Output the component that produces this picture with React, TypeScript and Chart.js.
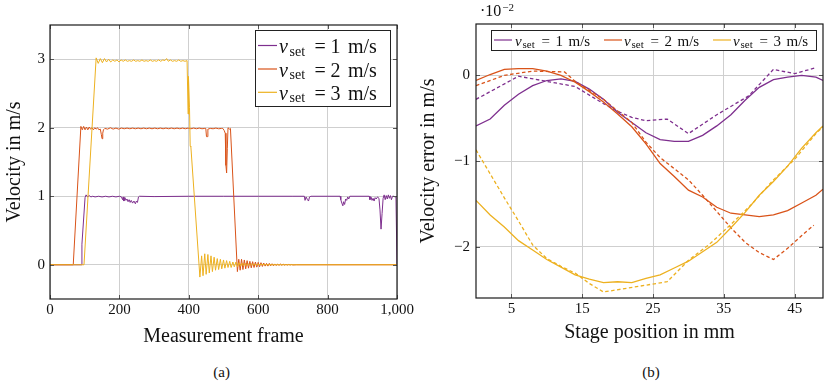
import React, { useEffect, useRef } from 'react';
import { Chart, registerables } from 'chart.js';

Chart.register(...registerables);

type Pt = [number, number];

const FONT = '"Liberation Serif", "Times New Roman", serif';
const INK = '#111111';
const GRID = '#cfcfcf';
const PURPLE = '#7E2F8E';
const ORANGE = '#D95319';
const YELLOW = '#EDB120';

// ---------------- (a) Velocity vs measurement frame ----------------
const frameTicks = [0, 200, 400, 600, 800, 1000];
const velocityTicks = [0, 1, 2, 3];
const legendValues = ['1', '2', '3'];

const velocity1: Pt[] = [
  [0, 0], [90, 0], [92, 0.3], [101, 0.98], [104, 1.02], [108, 0.99], [113, 1.01], [118, 0.99], [123, 1.0], [130, 0.99],
  [140, 1.0], [150, 0.99], [160, 1.0], [170, 0.99], [180, 1.0], [190, 0.99], [200, 1.0], [206, 0.99], [209, 0.95], [211, 0.99],
  [213, 0.93], [216, 0.98], [219, 0.94], [222, 0.96], [225, 0.92], [228, 0.95], [231, 0.91], [234, 0.94], [238, 0.9], [242, 0.93],
  [246, 0.89], [249, 0.93], [252, 0.91], [255, 0.99], [258, 1.0], [300, 0.995], [400, 1.0], [500, 1.0], [600, 1.0], [700, 1.0],
  [733, 1.0], [735, 0.94], [738, 0.99], [742, 0.95], [745, 0.93], [748, 0.99], [752, 1.0], [836, 1.0], [838, 0.95], [841, 0.9],
  [844, 0.86], [846, 0.92], [849, 0.88], [852, 0.96], [855, 0.94], [858, 0.99], [861, 0.96], [864, 1.0], [920, 1.0], [922, 0.95],
  [925, 0.99], [928, 0.94], [931, 0.97], [934, 0.93], [937, 0.98], [940, 0.96], [944, 0.99], [948, 0.97], [951, 0.8], [954, 0.52],
  [957, 0.75], [960, 0.97], [963, 1.02], [966, 0.95], [969, 1.01], [972, 0.96], [975, 1.02], [978, 0.97], [981, 1.01], [984, 0.95],
  [987, 1.0], [991, 1.0], [994, 0.99], [997, 0.99], [1000, 0],
];

const velocity2: Pt[] = [
  [0, 0], [67, 0], [89, 2.02], [93, 1.97], [97, 2.02], [101, 1.97], [105, 2.01], [109, 1.97], [113, 2.01], [117, 1.98],
  [121, 2.0], [125, 1.97], [129, 2.0], [133, 1.98], [137, 2.0], [141, 1.97], [145, 1.98], [148, 1.9], [150, 1.84], [152, 1.92],
  [154, 1.97], [158, 1.99], [166, 1.98], [174, 2.0], [182, 1.98], [190, 1.995], [198, 1.98], [206, 1.995], [214, 1.985], [222, 1.995],
  [230, 1.985], [238, 1.995], [246, 1.985], [254, 1.995], [262, 1.985], [270, 1.995], [278, 1.985], [286, 1.995], [294, 1.985], [302, 1.995],
  [310, 1.985], [318, 1.995], [326, 1.985], [334, 1.995], [342, 1.985], [350, 1.995], [358, 1.985], [366, 1.995], [374, 1.985], [382, 1.995],
  [390, 1.985], [398, 1.995], [406, 1.985], [414, 1.995], [422, 1.985], [430, 1.995], [438, 1.985], [446, 1.99], [449, 1.99], [451, 1.87],
  [453, 1.87], [455, 1.98], [462, 1.99], [470, 1.985], [478, 1.995], [486, 1.985], [494, 1.99], [498, 1.99], [502, 1.96], [505, 1.92],
  [507, 1.45], [509, 1.34], [511, 1.7], [513, 2.0], [517, 1.98], [520, 1.99], [540, -0.1], [544, 0.08], [548, -0.08], [552, 0.08],
  [556, -0.07], [560, 0.07], [564, -0.06], [568, 0.06], [572, -0.05], [576, 0.05], [580, -0.045], [584, 0.045], [588, -0.04], [592, 0.04],
  [596, -0.035], [600, 0.035], [604, -0.03], [608, 0.03], [612, -0.025], [616, 0.025], [620, -0.02], [624, 0.02], [628, -0.02], [632, 0.02],
  [636, -0.015], [640, 0.015], [644, -0.015], [648, 0.012], [652, -0.012], [656, 0.01], [660, -0.01], [664, 0.01], [668, -0.008], [672, 0.008],
  [676, -0.006], [680, 0.006], [684, -0.005], [688, 0.005], [692, -0.004], [696, 0.004], [700, -0.003], [710, 0], [1000, 0],
];

const velocity3: Pt[] = [
  [0, 0], [98, 0], [133, 3.02], [139, 2.94], [145, 3.01], [151, 2.95], [157, 3.01], [163, 2.96], [169, 3.0], [175, 2.96],
  [181, 2.99], [187, 2.97], [193, 2.99], [199, 2.96], [205, 2.99], [211, 2.97], [217, 2.99], [223, 2.97], [229, 2.98], [235, 2.97],
  [241, 2.99], [247, 2.97], [253, 2.98], [259, 2.97], [265, 2.99], [271, 2.97], [277, 2.98], [283, 2.97], [289, 2.99], [295, 2.97],
  [301, 2.98], [307, 2.97], [313, 2.99], [319, 2.97], [325, 2.99], [331, 2.98], [336, 3.01], [341, 2.97], [347, 2.99], [353, 2.97],
  [359, 2.98], [365, 2.97], [371, 2.99], [377, 2.97], [383, 2.98], [389, 2.97], [395, 2.98], [397, 2.98], [398, 2.2], [399, 2.75],
  [402, 2.3], [404, 1.73], [406, 1.72], [432, -0.18], [437, 0.13], [441, -0.16], [446, 0.16], [450, -0.14], [455, 0.15], [459, -0.12],
  [464, 0.13], [468, -0.1], [473, 0.11], [477, -0.08], [482, 0.09], [486, -0.07], [491, 0.08], [495, -0.06], [500, 0.07], [504, -0.05],
  [509, 0.06], [513, -0.04], [518, 0.05], [522, -0.04], [527, 0.04], [531, -0.03], [536, 0.04], [540, -0.03], [545, 0.03], [549, -0.02],
  [554, 0.025], [558, -0.015], [563, 0.02], [567, -0.01], [572, 0.015], [576, -0.01], [581, 0.012], [585, -0.005], [590, 0.01], [594, -0.005],
  [600, 0.008], [605, 0], [612, 0.005], [620, 0], [640, 0], [1000, 0],
];

// ---------------- (b) Velocity error vs stage position (x 10^-2 m/s) ----------------
const positionTicks = [5, 15, 25, 35, 45];
const errorTicks = [-2, -1, 0];

const stagePositions = [0, 2, 4, 6, 8, 10, 12, 14, 16, 18, 20, 22, 24, 26, 28, 30, 32, 34, 36, 38, 40, 42, 44, 46, 48, 49];
const error1Solid = [-0.59, -0.51, -0.35, -0.22, -0.12, -0.06, -0.04, -0.07, -0.16, -0.28, -0.43, -0.55, -0.67, -0.75, -0.77, -0.77, -0.70, -0.59, -0.46, -0.29, -0.14, -0.05, -0.02, 0.0, -0.02, -0.06];
const error2Solid = [-0.06, 0.01, 0.07, 0.08, 0.08, 0.05, 0.0, -0.08, -0.19, -0.31, -0.45, -0.60, -0.80, -1.03, -1.18, -1.34, -1.42, -1.54, -1.61, -1.63, -1.65, -1.63, -1.58, -1.49, -1.40, -1.33];
const error3Solid = [-1.46, -1.63, -1.77, -1.93, -2.04, -2.15, -2.24, -2.33, -2.38, -2.42, -2.41, -2.42, -2.37, -2.33, -2.25, -2.17, -2.06, -1.95, -1.78, -1.60, -1.40, -1.24, -1.06, -0.85, -0.67, -0.59];

const error1DashPos = [0, 6, 14, 18, 20, 22, 24, 27, 30, 34, 38.5, 42, 45, 48];
const error1Dash = [-0.28, -0.01, -0.13, -0.33, -0.42, -0.49, -0.53, -0.51, -0.68, -0.46, -0.24, 0.07, 0.02, 0.09];
const error2DashPos = [0, 4, 8, 12.5, 14, 18, 22, 24, 26, 28, 30, 32, 34, 36, 38, 40, 42, 44, 46, 47.7];
const error2Dash = [-0.12, 0.0, 0.05, 0.04, -0.07, -0.28, -0.55, -0.78, -0.96, -1.09, -1.22, -1.40, -1.59, -1.78, -1.95, -2.07, -2.15, -2.02, -1.87, -1.75];
const error3DashPos = [0, 2, 4, 6, 8, 10, 12, 14, 16, 18, 21, 24, 27, 30, 33, 36, 39, 42, 45, 48, 49];
const error3Dash = [-0.87, -1.15, -1.43, -1.70, -1.98, -2.14, -2.23, -2.31, -2.43, -2.53, -2.49, -2.45, -2.41, -2.16, -1.97, -1.74, -1.50, -1.22, -0.98, -0.68, -0.60];

// ---------------- helpers ----------------
const fromPairs = (a: Pt[]) => a.map(([x, y]) => ({ x, y }));
const zip = (xs: number[], ys: number[]) => xs.map((x, i) => ({ x, y: ys[i] }));
const minus = (v: number) => (v < 0 ? '\u2212' + Math.abs(v) : String(v));

type LegendEntry = { lineX: number; lineW: number; y: number; textX: number; color: string; value: string };
type OverlaySpec = {
  box: { x: number; y: number; w: number; h: number };
  fs: number;
  offs: number[];
  entries: LegendEntry[];
  multiplier?: { x: number; y: number };
};

function drawVset(ctx: CanvasRenderingContext2D, x: number, y: number, fs: number, offs: number[], value: string) {
  const base = y + 0.38 * fs;
  ctx.fillStyle = INK;
  ctx.textAlign = 'left';
  ctx.textBaseline = 'alphabetic';
  ctx.font = `italic ${fs}px ${FONT}`;
  ctx.fillText('v', x + offs[0], base);
  ctx.font = `${Math.round(fs * 0.7)}px ${FONT}`;
  ctx.fillText('set', x + offs[1], base + 0.12 * fs);
  ctx.font = `${fs}px ${FONT}`;
  ctx.fillText('=', x + offs[2], base);
  ctx.fillText(value, x + offs[3], base);
  ctx.fillText('m/s', x + offs[4], base);
}

function makeOverlay(spec: OverlaySpec) {
  return {
    id: 'overlay',
    afterDraw(chart: any) {
      const { ctx, chartArea: a } = chart;
      const xs = chart.scales.x;
      const ys = chart.scales.y;
      ctx.save();
      ctx.setLineDash([]);
      ctx.strokeStyle = '#555';
      ctx.lineWidth = 1;
      ctx.beginPath();
      for (const t of xs.ticks) {
        const p = Math.round(xs.getPixelForValue(t.value)) + 0.5;
        ctx.moveTo(p, a.bottom);
        ctx.lineTo(p, a.bottom - 4);
        ctx.moveTo(p, a.top);
        ctx.lineTo(p, a.top + 4);
      }
      for (const t of ys.ticks) {
        const p = Math.round(ys.getPixelForValue(t.value)) + 0.5;
        ctx.moveTo(a.left, p);
        ctx.lineTo(a.left + 4, p);
        ctx.moveTo(a.right, p);
        ctx.lineTo(a.right - 4, p);
      }
      ctx.stroke();
      ctx.strokeStyle = '#1a1a1a';
      ctx.lineWidth = 1.2;
      ctx.strokeRect(a.left, a.top, a.right - a.left, a.bottom - a.top);

      const b = spec.box;
      ctx.fillStyle = '#ffffff';
      ctx.fillRect(b.x, b.y, b.w, b.h);
      ctx.strokeStyle = '#222';
      ctx.lineWidth = 1;
      ctx.strokeRect(b.x + 0.5, b.y + 0.5, b.w, b.h);
      for (const e of spec.entries) {
        ctx.strokeStyle = e.color;
        ctx.lineWidth = 1.2;
        ctx.beginPath();
        ctx.moveTo(e.lineX, e.y);
        ctx.lineTo(e.lineX + e.lineW, e.y);
        ctx.stroke();
        drawVset(ctx, e.textX, e.y, spec.fs, spec.offs, e.value);
      }
      if (spec.multiplier) {
        const m = spec.multiplier;
        ctx.fillStyle = INK;
        ctx.textAlign = 'left';
        ctx.textBaseline = 'alphabetic';
        ctx.font = `16px ${FONT}`;
        ctx.fillText('\u00B710', m.x, m.y);
        const w = ctx.measureText('\u00B710').width;
        ctx.font = `11px ${FONT}`;
        ctx.fillText('\u22122', m.x + w + 1, m.y - 5);
      }
      ctx.restore();
    },
  };
}

const tickFont = { family: FONT, size: 15 };
const titleFont = { family: FONT, size: 20, lineHeight: 1 };

function buildLeft(): any {
  const colors = [PURPLE, ORANGE, YELLOW];
  return {
    type: 'line',
    data: {
      datasets: [velocity1, velocity2, velocity3].map((s, i) => ({
        data: fromPairs(s),
        borderColor: colors[i],
        borderWidth: 1,
        pointRadius: 0,
        tension: 0,
        fill: false,
        order: 3 - i,
      })),
    },
    options: {
      responsive: false,
      animation: false,
      events: [],
      layout: { padding: { top: 25, right: 23, left: 0, bottom: 0 } },
      plugins: { legend: { display: false }, tooltip: { enabled: false } },
      scales: {
        x: {
          type: 'linear',
          min: 0,
          max: 1000,
          afterBuildTicks: (s: any) => { s.ticks = frameTicks.map((v) => ({ value: v })); },
          afterFit: (s: any) => { s.height = 56; },
          grid: { color: GRID, lineWidth: 1, drawTicks: false },
          border: { display: false },
          ticks: { padding: 2, font: tickFont, color: INK, autoSkip: false, maxRotation: 0, callback: (v: any) => Number(v).toLocaleString('en-US') },
          title: { display: true, text: 'Measurement frame', font: titleFont, color: INK, padding: { top: 0, bottom: 8.5 } },
        },
        y: {
          type: 'linear',
          min: -0.5,
          max: 3.5,
          afterBuildTicks: (s: any) => { s.ticks = velocityTicks.map((v) => ({ value: v })); },
          afterFit: (s: any) => { s.width = 50; },
          grid: { color: GRID, lineWidth: 1, drawTicks: false },
          border: { display: false },
          ticks: { padding: 5, font: tickFont, color: INK, autoSkip: false, callback: (v: any) => String(v) },
          title: { display: true, text: 'Velocity in m/s', font: titleFont, color: INK, padding: { top: 5, bottom: 0 } },
        },
      },
    },
    plugins: [
      makeOverlay({
        box: { x: 255, y: 30, w: 135, h: 76 },
        fs: 20,
        offs: [0, 10.5, 35.5, 51.5, 69],
        entries: [45.5, 69, 92.3].map((y, i) => ({ lineX: 258, lineW: 19, y, textX: 279, color: colors[i], value: legendValues[i] })),
      }),
    ],
  };
}

function buildRight(): any {
  const colors = [PURPLE, ORANGE, YELLOW];
  const solids = [error1Solid, error2Solid, error3Solid];
  const dashPos = [error1DashPos, error2DashPos, error3DashPos];
  const dashes = [error1Dash, error2Dash, error3Dash];
  const datasets: any[] = [];
  for (let i = 0; i < 3; i++) {
    datasets.push({ data: zip(stagePositions, solids[i]), borderColor: colors[i], borderWidth: 1.3, pointRadius: 0, tension: 0, fill: false, order: 6 - 2 * i });
    datasets.push({ data: zip(dashPos[i], dashes[i]), borderColor: colors[i], borderWidth: 1.3, borderDash: [3.5, 2.5], pointRadius: 0, tension: 0, fill: false, order: 5 - 2 * i });
  }
  const textXs = [95, 204, 313];
  const lineXs = [74, 184, 293];
  return {
    type: 'line',
    data: { datasets },
    options: {
      responsive: false,
      animation: false,
      events: [],
      layout: { padding: { top: 24, right: 1, left: 0, bottom: 0 } },
      plugins: { legend: { display: false }, tooltip: { enabled: false } },
      scales: {
        x: {
          type: 'linear',
          min: 0,
          max: 49,
          afterBuildTicks: (s: any) => { s.ticks = positionTicks.map((v) => ({ value: v })); },
          afterFit: (s: any) => { s.height = 57; },
          grid: { color: GRID, lineWidth: 1, drawTicks: false },
          border: { display: false },
          ticks: { padding: 2, font: tickFont, color: INK, autoSkip: false, maxRotation: 0, callback: (v: any) => String(v) },
          title: { display: true, text: 'Stage position in mm', font: titleFont, color: INK, padding: { top: 0, bottom: 12 } },
        },
        y: {
          type: 'linear',
          min: -2.6,
          max: 0.6,
          afterBuildTicks: (s: any) => { s.ticks = errorTicks.map((v) => ({ value: v })); },
          afterFit: (s: any) => { s.width = 56; },
          grid: { color: GRID, lineWidth: 1, drawTicks: false },
          border: { display: false },
          ticks: { padding: 6, font: tickFont, color: INK, autoSkip: false, callback: (v: any) => minus(Number(v)) },
          title: { display: true, text: 'Velocity error in m/s', font: titleFont, color: INK, padding: { top: -1, bottom: 0 } },
        },
      },
    },
    plugins: [
      makeOverlay({
        box: { x: 71, y: 30, w: 325, h: 20 },
        fs: 15,
        offs: [0, 7.5, 26.5, 40.5, 53.5],
        entries: [0, 1, 2].map((i) => ({ lineX: lineXs[i], lineW: 18, y: 40, textX: textXs[i], color: colors[i], value: legendValues[i] })),
        multiplier: { x: 60, y: 16 },
      }),
    ],
  };
}

function ChartCanvas({ left, width, height, build }: { left: number; width: number; height: number; build: () => any }) {
  const ref = useRef<HTMLCanvasElement>(null);
  useEffect(() => {
    const chart = new Chart(ref.current as HTMLCanvasElement, build());
    return () => chart.destroy();
  }, []);
  return (
    <canvas
      ref={ref}
      width={width}
      height={height}
      style={{ position: 'absolute', left, top: 0, width, height, display: 'block' }}
    />
  );
}

const captionStyle = (cx: number): React.CSSProperties => ({
  position: 'absolute',
  left: cx - 40,
  width: 80,
  top: 363,
  lineHeight: '18px',
  fontSize: 15,
  fontFamily: FONT,
  color: INK,
  textAlign: 'center',
});

export default function App() {
  return (
    <div style={{ position: 'absolute', left: 0, top: 0, width: 824, height: 388, background: '#ffffff', overflow: 'hidden' }}>
      <ChartCanvas left={0} width={420} height={355} build={buildLeft} />
      <ChartCanvas left={420} width={404} height={355} build={buildRight} />
      <div style={captionStyle(221.7)}>(a)</div>
      <div style={captionStyle(651)}>(b)</div>
    </div>
  );
}
